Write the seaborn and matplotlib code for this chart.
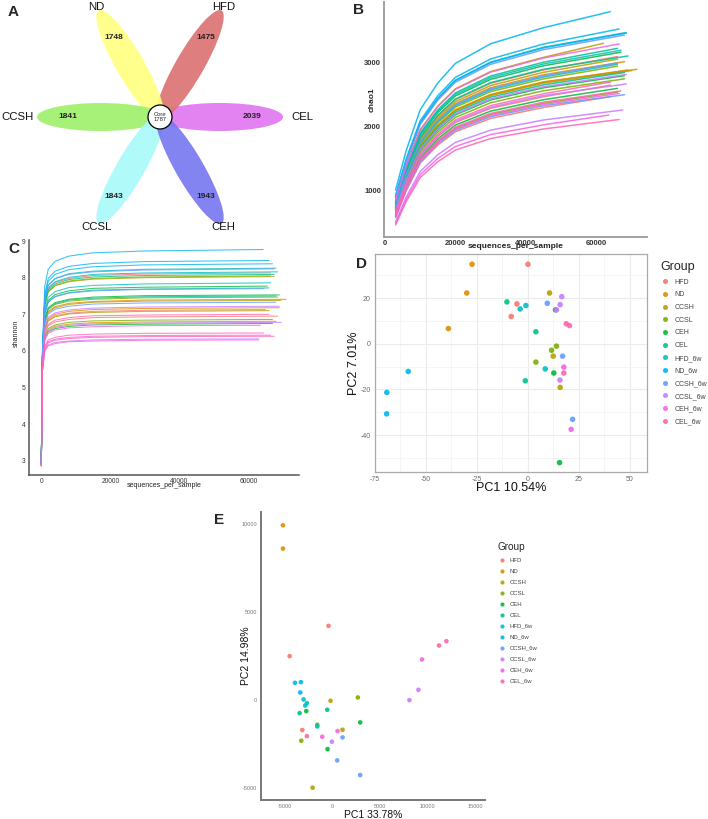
import numpy as np
import pandas as pd
import matplotlib
matplotlib.use("Agg")
import matplotlib.pyplot as plt
from matplotlib.patches import Ellipse, Circle
import seaborn as sns

# ---------------- data ----------------
GROUPS = ["HFD", "ND", "CCSH", "CCSL", "CEH", "CEL",
          "HFD_6w", "ND_6w", "CCSH_6w", "CCSL_6w", "CEH_6w", "CEL_6w"]
PALETTE = ["#F8766D", "#DE8C00", "#B79F00", "#7CAE00", "#00BA38", "#00C08B",
           "#00BFC4", "#00B4F0", "#619CFF", "#C77CFF", "#F564E3", "#FF64B0"]

# Panel A (flower diagram), petals counter-clockwise from the right
PETAL_NAMES = ["CEL", "HFD", "ND", "CCSH", "CCSL", "CEH"]
PETAL_COUNTS = [2039, 1475, 1748, 1841, 1843, 1943]
PETAL_COLORS = ["#E178F0", "#DC7373", "#FFFF82", "#A0F06E", "#AAFAFA", "#7878F0"]
CORE_COUNT = 1787

# Panel B (chao1 rarefaction): values at these depths, then last value at curve end depth
CHAO1_DEPTHS = [3000, 6000, 10000, 15000, 20000, 30000, 45000]
chao1_HFD = [[770, 1283, 1819, 2168, 2424, 2681, 2890, 3100],
             [625, 1071, 1536, 1840, 2063, 2286, 2468, 2650],
             [566, 985, 1423, 1708, 1918, 2127, 2299, 2470]]
chao1_ND = [[744, 1245, 1768, 2110, 2360, 2610, 2815, 3020],
            [706, 1189, 1693, 2022, 2264, 2505, 2703, 2900],
            [702, 1183, 1687, 2015, 2255, 2496, 2693, 2890]]
chao1_CCSH = [[838, 1382, 1950, 2321, 2593, 2865, 3088, 3310],
              [757, 1264, 1793, 2139, 2392, 2645, 2853, 3060],
              [699, 1179, 1680, 2008, 2248, 2487, 2684, 2880]]
chao1_CCSL = [[722, 1212, 1725, 2059, 2304, 2549, 2749, 2950],
              [657, 1117, 1599, 1913, 2143, 2373, 2562, 2750],
              [589, 1018, 1467, 1760, 1974, 2189, 2365, 2540]]
chao1_CEH = [[793, 1316, 1863, 2219, 2481, 2742, 2956, 3170],
             [673, 1141, 1630, 1949, 2183, 2417, 2609, 2800],
             [609, 1047, 1505, 1804, 2023, 2242, 2421, 2600]]
chao1_CEL = [[812, 1344, 1900, 2263, 2529, 2795, 3012, 3230],
             [774, 1288, 1825, 2176, 2433, 2690, 2900, 3110],
             [689, 1164, 1661, 1986, 2223, 2461, 2656, 2850]]
chao1_HFD_6w = [[893, 1462, 2057, 2445, 2730, 3014, 3247, 3480],
                [803, 1330, 1882, 2241, 2505, 2769, 2984, 3200],
                [731, 1226, 1743, 2080, 2328, 2575, 2778, 2980]]
chao1_ND_6w = [[1000, 1618, 2264, 2685, 2994, 3303, 3555, 3808],
               [911, 1488, 2092, 2485, 2774, 3063, 3299, 3535],
               [890, 1458, 2051, 2438, 2722, 3006, 3238, 3470]]
chao1_CCSH_6w = [[880, 1443, 2032, 2416, 2698, 2979, 3210, 3440],
                 [738, 1236, 1756, 2095, 2344, 2593, 2796, 3000],
                 [576, 999, 1442, 1730, 1942, 2154, 2327, 2500]]
chao1_CCSL_6w = [[680, 1151, 1643, 1964, 2199, 2435, 2627, 2820],
                 [631, 1080, 1549, 1854, 2079, 2303, 2487, 2670],
                 [499, 886, 1291, 1556, 1749, 1943, 2102, 2260]]
chao1_CEH_6w = [[835, 1377, 1944, 2314, 2585, 2856, 3078, 3300],
                [583, 1009, 1455, 1745, 1958, 2171, 2346, 2520],
                [473, 849, 1241, 1497, 1685, 1873, 2026, 2180]]
chao1_CEL_6w = [[641, 1094, 1568, 1876, 2103, 2329, 2515, 2700],
                [596, 1028, 1480, 1774, 1990, 2206, 2383, 2560],
                [450, 815, 1197, 1446, 1629, 1811, 1961, 2110]]
CHAO1_END = {"HFD": [66000, 64000, 64000], "ND": [68000, 71500, 69000],
             "CCSH": [62000, 66000, 70000], "CCSL": [66000, 68000, 66000],
             "CEH": [67000, 68000, 66000], "CEL": [66000, 69000, 68000],
             "HFD_6w": [68500, 67000, 66000], "ND_6w": [64000, 66500, 68500],
             "CCSH_6w": [68000, 66000, 68000], "CCSL_6w": [68500, 68500, 67500],
             "CEH_6w": [66500, 66500, 63500], "CEL_6w": [64000, 67000, 66500]}

# Panel C (shannon rarefaction)
SHANNON_DEPTHS = [10, 300, 1000, 2000, 4000, 8000, 15000, 30000]
sh_HFD = [[2.90, 5.79, 7.31, 7.69, 7.87, 7.98, 8.06, 8.10, 8.13],
          [2.92, 5.59, 6.59, 6.84, 6.96, 7.03, 7.08, 7.11, 7.13],
          [2.88, 5.55, 6.46, 6.69, 6.79, 6.86, 6.91, 6.93, 6.95]]
sh_ND = [[2.95, 5.64, 6.79, 7.08, 7.21, 7.30, 7.35, 7.39, 7.41],
         [2.91, 5.60, 6.63, 6.88, 7.00, 7.08, 7.13, 7.16, 7.18],
         [2.89, 5.52, 6.36, 6.57, 6.67, 6.73, 6.77, 6.79, 6.81]]
sh_CCSH = [[2.93, 5.77, 7.24, 7.61, 7.78, 7.89, 7.96, 8.00, 8.03],
           [2.90, 5.64, 6.77, 7.05, 7.18, 7.27, 7.33, 7.36, 7.38],
           [2.87, 5.58, 6.57, 6.82, 6.93, 7.01, 7.05, 7.08, 7.10]]
sh_CCSL = [[2.94, 5.77, 7.25, 7.62, 7.79, 7.91, 7.98, 8.02, 8.05],
           [2.91, 5.65, 6.83, 7.13, 7.27, 7.36, 7.41, 7.45, 7.47],
           [2.88, 5.53, 6.40, 6.61, 6.71, 6.78, 6.82, 6.84, 6.86]]
sh_CEH = [[2.92, 5.71, 7.05, 7.38, 7.54, 7.64, 7.71, 7.74, 7.77],
          [2.90, 5.67, 6.88, 7.18, 7.32, 7.41, 7.47, 7.51, 7.53],
          [2.86, 5.51, 6.32, 6.52, 6.61, 6.67, 6.71, 6.73, 6.75]]
sh_CEL = [[2.93, 5.78, 7.28, 7.66, 7.83, 7.95, 8.02, 8.06, 8.09],
          [2.91, 5.70, 7.01, 7.34, 7.49, 7.59, 7.66, 7.69, 7.72],
          [2.89, 5.66, 6.86, 7.16, 7.29, 7.39, 7.44, 7.48, 7.50]]
sh_HFD_6w = [[2.94, 5.81, 7.40, 7.80, 7.98, 8.11, 8.18, 8.23, 8.26],
             [2.92, 5.79, 7.33, 7.72, 7.89, 8.01, 8.09, 8.13, 8.16],
             [2.90, 5.73, 7.12, 7.46, 7.62, 7.73, 7.79, 7.83, 7.86]]
sh_ND_6w = [[2.96, 5.91, 7.77, 8.23, 8.45, 8.59, 8.68, 8.73, 8.77],
            [2.94, 5.85, 7.55, 7.98, 8.18, 8.31, 8.39, 8.44, 8.47],
            [2.93, 5.84, 7.49, 7.90, 8.09, 8.22, 8.30, 8.35, 8.38]]
sh_CCSH_6w = [[2.93, 5.81, 7.39, 7.78, 7.97, 8.09, 8.16, 8.21, 8.24],
              [2.90, 5.70, 7.00, 7.33, 7.48, 7.58, 7.64, 7.68, 7.70],
              [2.89, 5.63, 6.73, 7.01, 7.14, 7.22, 7.28, 7.31, 7.33]]
sh_CCSL_6w = [[2.91, 5.60, 6.65, 6.92, 7.04, 7.12, 7.17, 7.20, 7.22],
              [2.88, 5.52, 6.34, 6.54, 6.64, 6.70, 6.74, 6.76, 6.78],
              [2.86, 5.43, 6.01, 6.16, 6.23, 6.27, 6.30, 6.32, 6.33]]
sh_CEH_6w = [[2.88, 5.50, 6.28, 6.48, 6.57, 6.63, 6.66, 6.69, 6.70],
             [2.87, 5.45, 6.09, 6.25, 6.32, 6.37, 6.40, 6.42, 6.43],
             [2.85, 5.42, 5.99, 6.14, 6.20, 6.25, 6.27, 6.29, 6.30]]
sh_CEL_6w = [[2.89, 5.56, 6.50, 6.73, 6.84, 6.91, 6.96, 6.98, 7.00],
             [2.87, 5.46, 6.13, 6.30, 6.37, 6.43, 6.46, 6.48, 6.49],
             [2.86, 5.44, 6.06, 6.22, 6.29, 6.34, 6.37, 6.39, 6.40]]
SHANNON_END = {"HFD": [66500, 65000, 68500], "ND": [71000, 69000, 68000],
               "CCSH": [67500, 69500, 66000], "CCSL": [66500, 68500, 67000],
               "CEH": [65500, 69000, 67000], "CEL": [67500, 66000, 68000],
               "HFD_6w": [68000, 68500, 66500], "ND_6w": [64300, 66000, 67000],
               "CCSH_6w": [67500, 64500, 68000], "CCSL_6w": [69000, 69500, 63000],
               "CEH_6w": [63500, 66500, 63000], "CEL_6w": [66000, 64500, 67500]}

# Panel D (PCA)
D_GROUP = ["HFD"] * 3 + ["ND"] * 3 + ["CCSH"] * 3 + ["CCSL"] * 3 + ["CEH"] * 3 + ["CEL"] * 3 + \
          ["HFD_6w"] * 3 + ["ND_6w"] * 3 + ["CCSH_6w"] * 3 + ["CCSL_6w"] * 4 + ["CEH_6w"] * 2 + ["CEL_6w"] * 3
D_PC1 = [0, -5.4, -8.2, -27.4, -30, -39, 10.6, 12.4, 15.8, 14, 11.6, 3.9, 13.5, 12.7, 15.5,
         -10.3, 3.9, -1.3, -1, -3.8, 8.5, -58.7, -69.2, -69.3, 9.5, 17, 21.9,
         16.6, 15.8, 14, 15.7, 17.6, 21.2, 18.8, 20.4, 17.6]
D_PC2 = [34.9, 17.5, 12, 34.9, 22.3, 6.7, 22.3, -5.4, -19.1, -1, -2.8, -8, 14.9, -12.8, -52.1,
         18.4, 5.3, -16.2, 16.8, 15.3, -11, -12.1, -21.3, -30.7, 17.8, -5.4, -33.1,
         20.7, 17.2, 14.9, -15.9, -10.2, -37.5, 8.8, 8, -12.8]

# Panel E (PCA)
E_GROUP = ["HFD"] * 3 + ["ND"] * 2 + ["CCSH"] * 3 + ["CCSL"] * 3 + ["CEH"] * 3 + ["CEL"] * 2 + \
          ["HFD_6w"] * 4 + ["ND_6w"] * 3 + ["CCSH_6w"] * 3 + ["CCSL_6w"] * 3 + ["CEH_6w"] * 3 + ["CEL_6w"] * 3
E_PC1 = [-420, -4510, -3182, -5210, -5210, -210, 1049, -2098, 2657, -1608, -3287,
         -2762, 2902, -524, -559, -3462, -3042, -2867, -2692, -1608, -3951, -3322, -3392,
         1049, 490, 2902, 9021, 8077, -70, 9406, 524, -1084, 11958, 11189, -2692]
E_PC2 = [4208, 2491, -1698, 9906, 8585, -38, -1679, -4962, 151, -1396, -2302,
         -623, -1264, -2774, -547, -736, 38, -302, -170, -1491, 981, 1019, 434,
         -2113, -3415, -4245, 585, 0, -2358, 2302, -1755, -2075, 3340, 3094, -2038]

# ---------------- helpers ----------------
sns.set_style("white")
plt.rcParams["font.family"] = ["Liberation Sans", "DejaVu Sans"]

W, H = 708, 819
fig = plt.figure(figsize=(W / 100, H / 100), dpi=100)


def px_rect(l, t, r, b):
    return [l / W, 1 - b / H, (r - l) / W, (b - t) / H]


def panel_label(x, y, s):
    fig.text(x / W, 1 - y / H, s, fontsize=11, fontweight="bold", ha="left", va="center")


def curves_df(depth_grid, rows_by_group, ends_by_group):
    recs = []
    cid = 0
    for g in GROUPS:
        for row, end in zip(rows_by_group[g], ends_by_group[g]):
            for d, v in zip(list(depth_grid) + [end], row):
                recs.append((cid, g, d, v))
            cid += 1
    return pd.DataFrame(recs, columns=["curve", "group", "depth", "value"])


pal = dict(zip(GROUPS, PALETTE))

# ---------------- Panel A ----------------
axA = fig.add_axes(px_rect(0, 0, 330, 240))
axA.set_xlim(0, 330)
axA.set_ylim(0, 240)
axA.set_aspect("equal")
axA.axis("off")
cx, cy = 160, 123
L_pet, W_pet = 127, 28
for i, (name, cnt, col) in enumerate(zip(PETAL_NAMES, PETAL_COUNTS, PETAL_COLORS)):
    th = np.deg2rad(60 * i)
    d = L_pet / 2 - 4
    axA.add_patch(Ellipse((cx + d * np.cos(th), cy + d * np.sin(th)), L_pet, W_pet,
                          angle=60 * i, facecolor=col, edgecolor="none", alpha=0.92))
for i, (name, cnt) in enumerate(zip(PETAL_NAMES, PETAL_COUNTS)):
    th = np.deg2rad(60 * i)
    axA.text(cx + 92 * np.cos(th), cy + 92 * np.sin(th), str(cnt), fontsize=6,
             fontweight="bold", ha="center", va="center", color="#222222")
    rl = 142 if i % 3 == 0 else 127
    axA.text(cx + rl * np.cos(th), cy + rl * np.sin(th), name, fontsize=8.2,
             ha="center", va="center", color="#111111")
axA.add_patch(Circle((cx, cy), 12, facecolor="white", edgecolor="black", lw=0.9, zorder=5))
axA.text(cx, cy, f"Core\n{CORE_COUNT}", fontsize=4.2, ha="center", va="center",
         zorder=6, linespacing=1.1)
panel_label(8, 12, "A")

# ---------------- Panel B ----------------
chao1 = {"HFD": chao1_HFD, "ND": chao1_ND, "CCSH": chao1_CCSH, "CCSL": chao1_CCSL,
         "CEH": chao1_CEH, "CEL": chao1_CEL, "HFD_6w": chao1_HFD_6w, "ND_6w": chao1_ND_6w,
         "CCSH_6w": chao1_CCSH_6w, "CCSL_6w": chao1_CCSL_6w, "CEH_6w": chao1_CEH_6w,
         "CEL_6w": chao1_CEL_6w}
dfB = curves_df(CHAO1_DEPTHS, chao1, CHAO1_END)
axB = fig.add_axes(px_rect(384, 2, 647, 237))
sns.lineplot(data=dfB, x="depth", y="value", hue="group", hue_order=GROUPS, palette=pal,
             units="curve", estimator=None, sort=False, lw=1.1, alpha=0.85, legend=False, ax=axB)
axB.set_xlim(-284, 74400)
axB.set_ylim(260, 3960)
axB.set_xticks([0, 20000, 40000, 60000])
axB.set_yticks([1000, 2000, 3000])
axB.set_xticklabels(["0", "20000", "40000", "60000"])
axB.set_yticklabels(["1000", "2000", "3000"])
for s in ["top", "right"]:
    axB.spines[s].set_visible(False)
for s in ["left", "bottom"]:
    axB.spines[s].set_color("#9a9a9a")
    axB.spines[s].set_linewidth(1.3)
axB.tick_params(axis="both", labelsize=5.5, length=1.5, pad=0.5, colors="#333333", width=0.6)
for t in axB.get_xticklabels() + axB.get_yticklabels():
    t.set_fontweight("bold")
axB.set_xlabel("sequences_per_sample", fontsize=6, fontweight="bold", color="#222222")
axB.xaxis.set_label_coords(0.5, -0.024)
axB.set_ylabel("chao1", fontsize=6, fontweight="bold", color="#222222")
axB.yaxis.set_label_coords(-0.03, 0.583)
panel_label(353, 10, "B")

# ---------------- Panel C ----------------
shannon = {"HFD": sh_HFD, "ND": sh_ND, "CCSH": sh_CCSH, "CCSL": sh_CCSL, "CEH": sh_CEH,
           "CEL": sh_CEL, "HFD_6w": sh_HFD_6w, "ND_6w": sh_ND_6w, "CCSH_6w": sh_CCSH_6w,
           "CCSL_6w": sh_CCSL_6w, "CEH_6w": sh_CEH_6w, "CEL_6w": sh_CEL_6w}
dfC = curves_df(SHANNON_DEPTHS, shannon, SHANNON_END)
axC = fig.add_axes(px_rect(29, 240, 299, 475))
sns.lineplot(data=dfC, x="depth", y="value", hue="group", hue_order=GROUPS, palette=pal,
             units="curve", estimator=None, sort=False, lw=0.75, alpha=0.8, legend=False, ax=axC)
axC.set_xlim(-3565, 74700)
axC.set_ylim(2.61, 9.03)
axC.set_xticks([0, 20000, 40000, 60000])
axC.set_yticks([3, 4, 5, 6, 7, 8, 9])
axC.set_xticklabels(["0", "20000", "40000", "60000"])
axC.set_yticklabels(["3", "4", "5", "6", "7", "8", "9"])
for s in ["top", "right"]:
    axC.spines[s].set_visible(False)
for s in ["left", "bottom"]:
    axC.spines[s].set_color("#555555")
    axC.spines[s].set_linewidth(1.1)
axC.tick_params(axis="both", labelsize=4.8, length=1.5, pad=1, colors="#333333", width=0.6)
axC.set_xlabel("sequences_per_sample", fontsize=5, color="#222222")
axC.xaxis.set_label_coords(0.5, -0.03)
axC.set_ylabel("shannon", fontsize=5, color="#222222")
axC.yaxis.set_label_coords(-0.035, 0.604)
panel_label(8, 249, "C")

# ---------------- Panel D ----------------
dfD = pd.DataFrame({"group": D_GROUP, "PC1": D_PC1, "PC2": D_PC2})
axD = fig.add_axes(px_rect(375, 254, 647, 472))
axD.set_axisbelow(True)
sns.scatterplot(data=dfD, x="PC1", y="PC2", hue="group", hue_order=GROUPS, palette=pal,
                s=16, linewidth=0, alpha=0.9, ax=axD)
axD.set_xlim(-74.7, 58.4)
axD.set_ylim(-56.2, 39.4)
axD.set_xticks([-75, -50, -25, 0, 25, 50])
axD.set_yticks([-40, -20, 0, 20])
axD.set_xticklabels(["-75", "-50", "-25", "0", "25", "50"])
axD.set_yticklabels(["-40", "-20", "0", "20"])
axD.set_xticks([-62.5, -37.5, -12.5, 12.5, 37.5], minor=True)
axD.set_yticks([-50, -30, -10, 10, 30], minor=True)
axD.grid(True, which="major", color="#EBEBEB", lw=0.8)
axD.grid(True, which="minor", color="#F2F2F2", lw=0.5)
for s in axD.spines.values():
    s.set_color("#AAAAAA")
    s.set_linewidth(0.9)
axD.tick_params(axis="both", which="major", labelsize=5, length=2, pad=1,
                colors="#6A6A6A", width=0.6)
axD.tick_params(axis="both", which="minor", length=0)
axD.set_xlabel("PC1 10.54%", fontsize=9, color="#111111")
axD.xaxis.set_label_coords(0.5, -0.045)
axD.set_ylabel("PC2 7.01%", fontsize=9, color="#111111")
axD.yaxis.set_label_coords(-0.056, 0.5)
sns.move_legend(axD, "upper left", bbox_to_anchor=(1.051, 0.968), frameon=False, title="Group",
                fontsize=5, title_fontsize=9, handlelength=1.2, handletextpad=0.8,
                labelspacing=0.82, borderaxespad=0, borderpad=0, markerscale=0.9)
legD = axD.get_legend()
legD._legend_box.align = "left"
for t in legD.get_texts():
    t.set_color("#444444")
panel_label(356, 264, "D")

# ---------------- Panel E ----------------
dfE = pd.DataFrame({"group": E_GROUP, "PC1": E_PC1, "PC2": E_PC2})
axE = fig.add_axes(px_rect(261, 512, 485, 800))
sns.scatterplot(data=dfE, x="PC1", y="PC2", hue="group", hue_order=GROUPS, palette=pal,
                s=11, linewidth=0, alpha=0.9, ax=axE)
axE.set_xlim(-7517, 16014)
axE.set_ylim(-5660, 10660)
axE.set_xticks([-5000, 0, 5000, 10000, 15000])
axE.set_yticks([-5000, 0, 5000, 10000])
axE.set_xticklabels(["-5000", "0", "5000", "10000", "15000"])
axE.set_yticklabels(["-5000", "0", "5000", "10000"])
for s in ["top", "right"]:
    axE.spines[s].set_visible(False)
for s in ["left", "bottom"]:
    axE.spines[s].set_color("#777777")
    axE.spines[s].set_linewidth(1.4)
axE.tick_params(axis="both", labelsize=4, length=2, pad=1, colors="#777777", width=0.6)
axE.set_xlabel("PC1 33.78%", fontsize=7.5, color="#111111")
axE.xaxis.set_label_coords(0.5, -0.034)
axE.set_ylabel("PC2 14.98%", fontsize=7.5, color="#111111")
axE.yaxis.set_label_coords(-0.045, 0.5)
sns.move_legend(axE, "upper left", bbox_to_anchor=(1.058, 0.896), frameon=False, title="Group",
                fontsize=4.3, title_fontsize=7.2, handlelength=1.2, handletextpad=0.74,
                labelspacing=0.97, borderaxespad=0, borderpad=0, markerscale=0.9)
legE = axE.get_legend()
legE._legend_box.align = "left"
for t in legE.get_texts():
    t.set_color("#444444")
panel_label(214, 520, "E")

fig.savefig("out.png", dpi=100)
